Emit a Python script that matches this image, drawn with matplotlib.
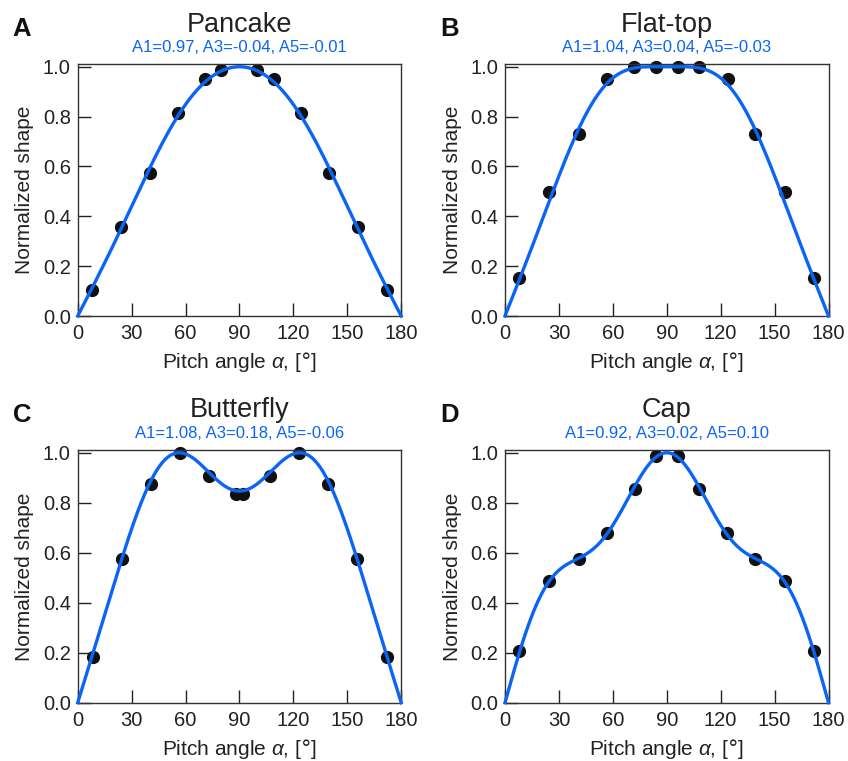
import numpy as np
import matplotlib
matplotlib.use("Agg")
from matplotlib import pyplot as plt

plt.rcParams['font.family'] = ['Liberation Sans', 'DejaVu Sans']
plt.rcParams['mathtext.fontset'] = 'custom'
plt.rcParams['mathtext.it'] = 'Liberation Sans:italic'

# panel info
letters = ['A', 'B', 'C', 'D']
titles = ['Pancake', 'Flat-top', 'Butterfly', 'Cap']
coef_a1 = [0.97, 1.04, 1.08, 0.92]
coef_a3 = [-0.04, 0.04, 0.18, 0.02]
coef_a5 = [-0.01, -0.03, -0.06, 0.10]

# measured points (pitch angle, normalized shape)
pancake_x = [8, 24, 40, 56, 71, 80, 100, 109, 124, 140, 156, 172]
pancake_y = [0.105, 0.357, 0.572, 0.816, 0.950, 0.987, 0.987, 0.950, 0.816, 0.572, 0.357, 0.105]
flattop_x = [8, 24.5, 41, 57, 72, 84, 96, 108, 124, 139, 156, 172]
flattop_y = [0.154, 0.498, 0.732, 0.950, 1.0, 0.997, 0.997, 1.0, 0.950, 0.732, 0.498, 0.154]
butterfly_x = [8.5, 24.5, 41, 57, 73, 88, 92, 107, 123, 139, 155.5, 172]
butterfly_y = [0.184, 0.575, 0.873, 0.997, 0.908, 0.835, 0.835, 0.908, 0.997, 0.873, 0.575, 0.184]
cap_x = [8, 24.5, 41, 56.5, 72.5, 84, 96, 108, 123.5, 139, 156, 172]
cap_y = [0.208, 0.487, 0.575, 0.680, 0.853, 0.987, 0.987, 0.853, 0.680, 0.575, 0.487, 0.208]

pts_x = [pancake_x, flattop_x, butterfly_x, cap_x]
pts_y = [pancake_y, flattop_y, butterfly_y, cap_y]

blue = '#0a64f5'
fig = plt.figure(figsize=(8.48, 7.61), dpi=100)
W, H = 848., 761.
lefts = [77.7, 505, 77.7, 505]
bottoms = [316, 316, 702.7, 702.7]
tops = [64, 64, 450, 450]

for i in range(4):
    l, b, t = lefts[i], bottoms[i], tops[i]
    h = b - t
    ax = fig.add_axes([l / W, (H - b) / H, 323.5 / W, h / H])
    a = np.linspace(0, 180, 721)
    r = np.deg2rad(a)
    f = coef_a1[i] * np.sin(r) + coef_a3[i] * np.sin(3 * r) + coef_a5[i] * np.sin(5 * r)
    f = f / f.max()
    ax.plot(pts_x[i], pts_y[i], 'o', color='#111111', ms=8.5, zorder=2, clip_on=False)
    ax.plot(a, f, color=blue, lw=2.4, zorder=3, clip_on=False)
    ax.set_xlim(0, 180)
    ax.set_ylim(0, 1.011)
    ax.set_xticks(np.arange(0, 181, 30))
    ax.set_yticks(np.arange(0, 1.01, 0.2))
    ax.set_yticklabels(['%.1f' % v for v in np.arange(0, 1.01, 0.2)])
    ax.tick_params(direction='in', length=9.5, width=1, labelsize=14.5, colors='#222222', pad=5)
    ax.tick_params(axis='x', pad=6)
    for s in ax.spines.values():
        s.set_color('#333333')
        s.set_linewidth(1)
    ax.set_xlabel(r'Pitch angle $\alpha$, [$\degree$]', fontsize=15, color='#222222', labelpad=5)
    ax.set_ylabel('Normalized shape', fontsize=15, color='#222222', labelpad=6)
    ax.text(0.5, 1 + (33 if i > 1 else 32) / h, titles[i], transform=ax.transAxes, ha='center',
            va='baseline', fontsize=19.5, color='#222222')
    ax.text(0.5, 1 + 11.5 / h, 'A1=%.2f, A3=%.2f, A5=%.2f' % (coef_a1[i], coef_a3[i], coef_a5[i]),
            transform=ax.transAxes, ha='center', va='baseline', fontsize=12, color=blue)
    fig.text((l - 65) / W, (H - t + 27.5) / H, letters[i], fontsize=18.5, fontweight='bold',
             ha='left', va='baseline', color='#111111')

plt.savefig('out.png', dpi=100)
